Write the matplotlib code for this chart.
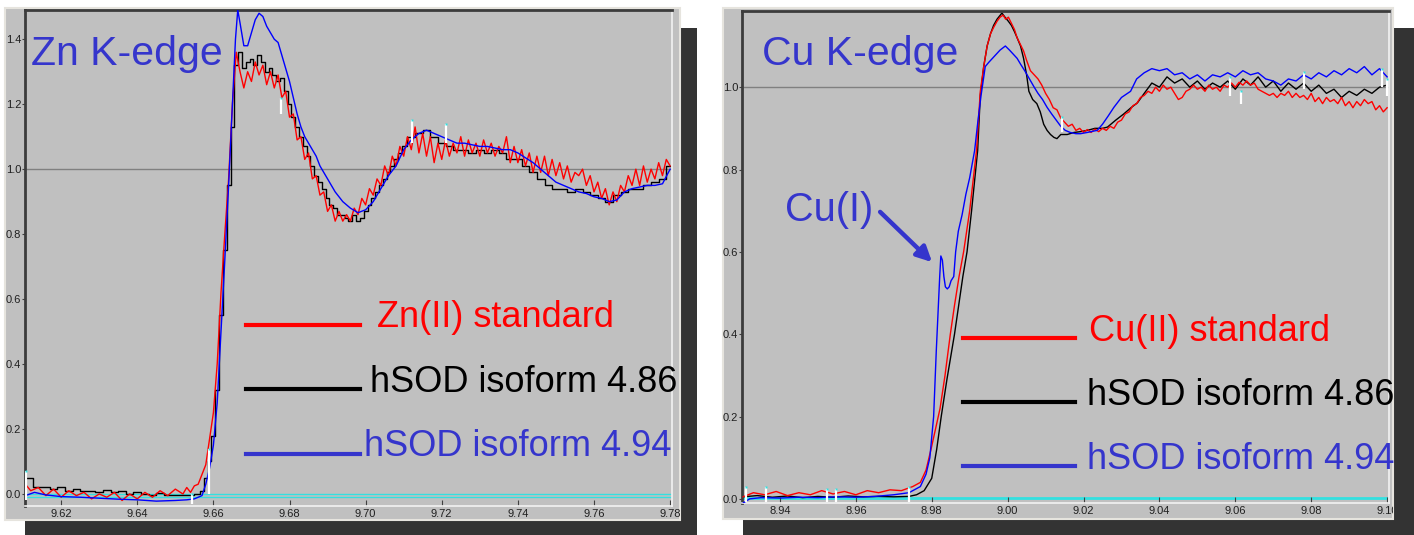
import numpy as np
import matplotlib
matplotlib.use("Agg")
import matplotlib.pyplot as plt
from matplotlib.patches import Rectangle
from matplotlib.lines import Line2D

W, H = 1414, 535

# ---------------- Zn K-edge data (energy in keV, normalised absorption) ----------------
zn_std_pre_e = [9.6106, 9.612, 9.614, 9.616, 9.618, 9.620, 9.622, 9.624, 9.626, 9.628,
                9.630, 9.632, 9.634, 9.636, 9.638, 9.640, 9.642, 9.644, 9.646, 9.648,
                9.650, 9.652, 9.653, 9.654, 9.655, 9.656, 9.657, 9.658, 9.659, 9.660,
                9.661, 9.662, 9.663, 9.664, 9.665]
zn_std_pre_mu = [0.03, 0.01, 0.02, -0.005, 0.015, -0.01, 0.01, -0.005, 0.005, -0.015,
                 0.0, -0.01, 0.005, -0.02, 0.0, -0.015, 0.005, -0.01, 0.01, -0.005,
                 0.015, 0.0, 0.02, 0.005, 0.025, 0.03, 0.06, 0.09, 0.17, 0.25,
                 0.40, 0.62, 0.80, 0.97, 1.20]
# noisy post-edge of the standard, one reading per eV from 9.666 keV
zn_std_post_mu = [1.36, 1.30, 1.25, 1.30, 1.27, 1.33, 1.29, 1.32, 1.26, 1.30,
                  1.25, 1.29, 1.22, 1.24, 1.16, 1.17, 1.09, 1.10, 1.03, 1.05,
                  0.97, 0.98, 0.92, 0.93, 0.87, 0.89, 0.84, 0.87, 0.84, 0.86,
                  0.84, 0.88, 0.86, 0.91, 0.89, 0.94, 0.92, 0.97, 0.95, 1.01,
                  0.98, 1.04, 1.01, 1.07, 1.04, 1.10, 1.06, 1.13, 1.05, 1.11,
                  1.04, 1.10, 1.02, 1.08, 1.03, 1.09, 1.04, 1.08, 1.05, 1.10,
                  1.04, 1.09, 1.05, 1.08, 1.04, 1.09, 1.05, 1.08, 1.04, 1.07,
                  1.05, 1.10, 1.02, 1.07, 1.02, 1.06, 1.01, 1.05, 0.99, 1.04,
                  0.99, 1.04, 0.98, 1.03, 0.98, 1.02, 0.97, 1.01, 0.96, 0.99,
                  0.98, 1.00, 0.95, 0.98, 0.93, 0.96, 0.91, 0.94, 0.89, 0.93,
                  0.90, 0.95, 0.93, 0.98, 0.95, 1.00, 0.95, 1.01, 0.96, 1.00,
                  0.97, 1.02, 0.98, 1.03, 1.01]

zn_486_e = [9.6106, 9.612, 9.613, 9.616, 9.618, 9.620, 9.622, 9.624, 9.626, 9.628,
            9.630, 9.632, 9.634, 9.636, 9.638, 9.640, 9.642, 9.644, 9.646, 9.648,
            9.650, 9.652, 9.654, 9.656, 9.657, 9.658, 9.659, 9.660, 9.661, 9.662,
            9.663, 9.664, 9.665, 9.666, 9.667, 9.668, 9.669, 9.670, 9.671, 9.672,
            9.673, 9.674, 9.675, 9.676, 9.677, 9.678, 9.679, 9.680, 9.681, 9.682,
            9.683, 9.684, 9.685, 9.686, 9.687, 9.688, 9.689, 9.690, 9.691, 9.692,
            9.693, 9.694, 9.695, 9.696, 9.697, 9.698, 9.699, 9.700, 9.701, 9.702,
            9.703, 9.704, 9.705, 9.706, 9.707, 9.708, 9.709, 9.710, 9.712, 9.714,
            9.716, 9.718, 9.720, 9.722, 9.724, 9.726, 9.728, 9.730, 9.732, 9.734,
            9.736, 9.738, 9.740, 9.742, 9.744, 9.746, 9.748, 9.750, 9.752, 9.754,
            9.756, 9.758, 9.760, 9.762, 9.764, 9.766, 9.768, 9.770, 9.772, 9.774,
            9.776, 9.778, 9.780]
zn_486_mu = [0.05, 0.05, 0.02, 0.02, 0.015, 0.02, 0.01, 0.015, 0.01, 0.01,
             0.005, 0.012, 0.005, 0.008, 0.0, 0.005, 0.0, -0.002, 0.002, -0.003,
             -0.002, -0.004, -0.003, 0.0, 0.01, 0.05, 0.10, 0.18, 0.32, 0.55,
             0.75, 0.95, 1.13, 1.32, 1.36, 1.31, 1.33, 1.34, 1.32, 1.35,
             1.33, 1.30, 1.31, 1.29, 1.27, 1.28, 1.24, 1.20, 1.16, 1.13,
             1.10, 1.07, 1.04, 1.01, 0.98, 0.96, 0.94, 0.91, 0.89, 0.88,
             0.86, 0.86, 0.85, 0.84, 0.86, 0.84, 0.85, 0.87, 0.89, 0.91,
             0.93, 0.95, 0.97, 0.99, 1.01, 1.03, 1.05, 1.07, 1.10, 1.11,
             1.12, 1.10, 1.08, 1.07, 1.06, 1.06, 1.05, 1.06, 1.05, 1.06,
             1.05, 1.03, 1.03, 1.01, 0.99, 0.97, 0.95, 0.94, 0.94, 0.93,
             0.94, 0.93, 0.92, 0.91, 0.90, 0.92, 0.93, 0.94, 0.94, 0.95,
             0.96, 0.97, 1.01]

zn_494_e = [9.6106, 9.613, 9.616, 9.620, 9.625, 9.630, 9.635, 9.640, 9.645, 9.650,
            9.653, 9.655, 9.657, 9.658, 9.659, 9.660, 9.661, 9.662, 9.663, 9.664,
            9.665, 9.6658, 9.6664, 9.667, 9.668, 9.669, 9.670, 9.671, 9.672, 9.673,
            9.674, 9.675, 9.676, 9.677, 9.678, 9.679, 9.680, 9.681, 9.682, 9.683,
            9.684, 9.685, 9.686, 9.687, 9.688, 9.689, 9.690, 9.692, 9.694, 9.696,
            9.698, 9.700, 9.702, 9.704, 9.706, 9.708, 9.710, 9.712, 9.714, 9.716,
            9.718, 9.720, 9.722, 9.724, 9.726, 9.728, 9.730, 9.732, 9.734, 9.736,
            9.738, 9.740, 9.742, 9.744, 9.746, 9.748, 9.750, 9.752, 9.754, 9.756,
            9.758, 9.760, 9.762, 9.764, 9.766, 9.768, 9.770, 9.772, 9.774, 9.776,
            9.778, 9.780]
zn_494_mu = [-0.005, 0.005, -0.003, -0.008, -0.01, -0.013, -0.016, -0.018, -0.022, -0.02,
             -0.018, -0.015, -0.005, 0.03, 0.08, 0.15, 0.28, 0.50, 0.72, 0.95,
             1.20, 1.40, 1.49, 1.45, 1.38, 1.38, 1.42, 1.46, 1.48, 1.47,
             1.44, 1.42, 1.40, 1.39, 1.35, 1.31, 1.27, 1.22, 1.17, 1.13,
             1.10, 1.08, 1.06, 1.04, 1.01, 0.99, 0.97, 0.93, 0.90, 0.88,
             0.866, 0.875, 0.90, 0.94, 0.98, 1.01, 1.06, 1.09, 1.11, 1.12,
             1.11, 1.10, 1.09, 1.08, 1.08, 1.075, 1.07, 1.07, 1.065, 1.06,
             1.06, 1.05, 1.035, 1.02, 1.00, 0.98, 0.96, 0.95, 0.94, 0.93,
             0.925, 0.915, 0.91, 0.90, 0.905, 0.93, 0.94, 0.945, 0.95, 0.95,
             0.955, 1.00]

zn_glitch_e = [9.6108, 9.6545, 9.6588, 9.6777, 9.7123, 9.7210]
zn_glitch_lo = [-0.02, -0.03, 0.0, 1.17, 1.08, 1.08]
zn_glitch_hi = [0.07, 0.0, 0.14, 1.22, 1.15, 1.14]

# ---------------- Cu K-edge data ----------------
cu_std_pre_e = [8.9303, 8.933, 8.936, 8.939, 8.942, 8.945, 8.948, 8.951, 8.954, 8.957,
                8.960, 8.963, 8.966, 8.969, 8.972, 8.975, 8.977, 8.9785, 8.9798, 8.981,
                8.9822, 8.9835, 8.9849, 8.9860, 8.9872, 8.9884, 8.9900, 8.9918, 8.9928, 8.9937,
                8.9946, 8.9955, 8.9963, 8.9972, 8.9980, 8.9988, 8.9995, 9.0002, 9.0010, 9.0018,
                9.0025, 9.0033, 9.0042, 9.0050]
cu_std_pre_mu = [0.005, 0.015, 0.01, 0.018, 0.008, 0.015, 0.01, 0.02, 0.012, 0.018,
                 0.01, 0.02, 0.015, 0.022, 0.02, 0.03, 0.04, 0.07, 0.12, 0.17,
                 0.22, 0.30, 0.40, 0.47, 0.54, 0.60, 0.70, 0.846, 0.99, 1.05,
                 1.10, 1.13, 1.145, 1.16, 1.17, 1.175, 1.165, 1.17, 1.155, 1.14,
                 1.12, 1.105, 1.088, 1.065]
# noisy post-edge of the standard, one reading per eV from 9.006 keV
cu_std_post_mu = [1.04, 1.03, 1.02, 1.005, 0.985, 0.97, 0.95, 0.945, 0.925, 0.915,
                  0.905, 0.91, 0.895, 0.90, 0.89, 0.897, 0.89, 0.898, 0.892, 0.90,
                  0.895, 0.905, 0.90, 0.915, 0.92, 0.935, 0.94, 0.955, 0.96, 0.975,
                  0.98, 0.99, 0.985, 1.0, 0.99, 1.005, 0.995, 1.0, 0.985, 0.97,
                  0.975, 0.99, 0.995, 1.005, 0.995, 1.0, 0.99, 1.005, 0.995, 1.0,
                  0.99, 1.005, 1.0, 1.01, 1.0, 1.012, 1.005, 1.015, 1.005, 1.01,
                  0.995, 0.99, 0.985, 0.98, 0.985, 0.975, 0.985, 0.98, 0.99, 0.975,
                  0.985, 0.975, 0.98, 0.97, 0.985, 0.965, 0.975, 0.96, 0.975, 0.965,
                  0.97, 0.96, 0.975, 0.955, 0.965, 0.95, 0.965, 0.955, 0.97, 0.96,
                  0.965, 0.945, 0.955, 0.94, 0.95]

cu_486_e = [8.9303, 8.934, 8.938, 8.942, 8.946, 8.950, 8.954, 8.958, 8.962, 8.966,
            8.970, 8.974, 8.976, 8.978, 8.980, 8.9813, 8.9825, 8.9840, 8.9860, 8.9871,
            8.9882, 8.9893, 8.9905, 8.9921, 8.9928, 8.9937, 8.9946, 8.9955, 8.9963, 8.9972,
            8.9985, 8.9993, 9.0002, 9.0010, 9.0018, 9.0025, 9.0034, 9.0042, 9.0050, 9.0056,
            9.0066, 9.0077, 9.0086, 9.0095, 9.0104, 9.0113, 9.0122, 9.0130, 9.0140, 9.0157,
            9.0175, 9.0192, 9.0210, 9.0230, 9.0250, 9.0263, 9.0285, 9.0306, 9.0325, 9.0342,
            9.036, 9.038, 9.040, 9.042, 9.044, 9.046, 9.048, 9.050, 9.052, 9.054,
            9.056, 9.058, 9.060, 9.062, 9.064, 9.066, 9.068, 9.070, 9.072, 9.074,
            9.076, 9.078, 9.080, 9.082, 9.084, 9.086, 9.088, 9.090, 9.092, 9.094,
            9.096, 9.098, 9.100]
cu_486_mu = [0.005, 0.008, 0.004, 0.007, 0.003, 0.006, 0.004, 0.007, 0.005, 0.006,
             0.005, 0.006, 0.01, 0.02, 0.05, 0.12, 0.20, 0.29, 0.40, 0.47,
             0.54, 0.60, 0.70, 0.846, 0.98, 1.05, 1.10, 1.13, 1.15, 1.165,
             1.18, 1.17, 1.16, 1.15, 1.135, 1.12, 1.10, 1.07, 1.03, 0.99,
             0.97, 0.96, 0.94, 0.91, 0.895, 0.885, 0.878, 0.875, 0.885, 0.885,
             0.89, 0.892, 0.895, 0.90, 0.90, 0.903, 0.92, 0.935, 0.95, 0.962,
             0.985, 1.01, 1.0, 1.025, 1.01, 1.02, 1.0, 1.015, 0.995, 1.01,
             1.0, 1.015, 0.995, 1.02, 1.005, 1.025, 1.0, 1.015, 0.99, 1.01,
             0.995, 1.01, 0.99, 1.005, 0.985, 0.995, 0.975, 0.99, 0.98, 0.995,
             0.985, 1.0, 1.005]

cu_494_e = [8.9303, 8.932, 8.935, 8.940, 8.945, 8.950, 8.955, 8.960, 8.965, 8.970,
            8.974, 8.977, 8.9785, 8.9795, 8.9805, 8.9812, 8.9816, 8.9821, 8.9824, 8.9828,
            8.9832, 8.9836, 8.9841, 8.9846, 8.9851, 8.9858, 8.9863, 8.9870, 8.9880, 8.9890,
            8.9900, 8.9913, 8.9922, 8.9930, 8.9941, 8.9950, 8.9960, 8.9970, 8.9980, 8.9994,
            9.0005, 9.0015, 9.0025, 9.0034, 9.0045, 9.0060, 9.0070, 9.0080, 9.0092, 9.0104,
            9.0116, 9.0128, 9.0140, 9.0152, 9.0165, 9.0180, 9.0192, 9.0210, 9.0225, 9.0236,
            9.0250, 9.0265, 9.0280, 9.0300, 9.0324,
            9.034, 9.036, 9.038, 9.040, 9.042, 9.044, 9.046, 9.048, 9.050, 9.052,
            9.054, 9.056, 9.058, 9.060, 9.062, 9.064, 9.066, 9.068, 9.070, 9.072,
            9.074, 9.076, 9.078, 9.080, 9.082, 9.084, 9.086, 9.088, 9.090, 9.092,
            9.094, 9.096, 9.098, 9.100]
cu_494_mu = [-0.01, 0.0, 0.003, 0.002, 0.004, 0.003, 0.005, 0.004, 0.006, 0.01,
             0.015, 0.03, 0.06, 0.10, 0.20, 0.36, 0.44, 0.54, 0.59, 0.58,
             0.54, 0.515, 0.51, 0.515, 0.53, 0.54, 0.60, 0.65, 0.69, 0.74,
             0.78, 0.846, 0.92, 0.98, 1.05, 1.06, 1.07, 1.08, 1.09, 1.10,
             1.09, 1.08, 1.07, 1.056, 1.04, 1.016, 1.0, 0.985, 0.97, 0.951,
             0.935, 0.92, 0.905, 0.895, 0.89, 0.887, 0.887, 0.89, 0.893, 0.895,
             0.91, 0.93, 0.951, 0.975, 0.99,
             1.02, 1.035, 1.045, 1.04, 1.045, 1.03, 1.035, 1.02, 1.03, 1.015,
             1.03, 1.025, 1.035, 1.025, 1.04, 1.03, 1.035, 1.02, 1.015, 1.005,
             1.02, 1.015, 1.03, 1.02, 1.035, 1.025, 1.04, 1.03, 1.045, 1.035,
             1.05, 1.03, 1.045, 1.025]

cu_glitch_e = [8.9310, 8.9364, 8.9523, 8.9548, 8.9741, 9.0144, 9.0586, 9.0615, 9.0780, 9.0987, 9.0999]
cu_glitch_lo = [-0.007, -0.007, -0.007, -0.007, -0.007, 0.89, 0.979, 0.959, 0.996, 1.0, 0.979]
cu_glitch_hi = [0.03, 0.03, 0.025, 0.025, 0.03, 0.927, 1.024, 0.99, 1.036, 1.044, 1.02]

zn_ticks_x = [9.62, 9.64, 9.66, 9.68, 9.70, 9.72, 9.74, 9.76, 9.78]
zn_ticks_y = [0.0, 0.2, 0.4, 0.6, 0.8, 1.0, 1.2, 1.4]
cu_ticks_x = [8.94, 8.96, 8.98, 9.00, 9.02, 9.04, 9.06, 9.08, 9.10]
cu_ticks_y = [0.0, 0.2, 0.4, 0.6, 0.8, 1.0]

zn_labels = ["Zn(II) standard", "hSOD isoform 4.86", "hSOD isoform 4.94"]
cu_labels = ["Cu(II) standard", "hSOD isoform 4.86", "hSOD isoform 4.94"]

RED = "#ff0000"
BLUE = "#0000ff"
TXT_BLUE = "#3535cc"
CYAN = "#33e0e0"
GREY = "#c0c0c0"
MAIN_FONT = ["Liberation Sans", "DejaVu Sans"]
TICK_FONT = ["Liberation Sans Narrow", "Liberation Sans", "DejaVu Sans"]


def fx(px):
    return px / W


def fy(py):
    return 1 - py / H


def panel(fig, frame, axbox, shadow):
    sx0, sy0, sx1, sy1 = shadow
    fig.add_artist(Rectangle((fx(sx0), fy(sy1)), (sx1 - sx0) / W, (sy1 - sy0) / H,
                             transform=fig.transFigure, facecolor="#333333",
                             edgecolor="none", zorder=-3))
    x0, y0, x1, y1 = frame
    fr = Rectangle((fx(x0), fy(y1)), (x1 - x0) / W, (y1 - y0) / H,
                   transform=fig.transFigure, facecolor=GREY,
                   edgecolor="#e6e4de", lw=1.5, zorder=-2)
    fig.add_artist(fr)
    a0, b0, a1, b1 = axbox
    ax = fig.add_axes([fx(a0), fy(b1), (a1 - a0) / W, (b1 - b0) / H])
    ax.set_facecolor(GREY)
    for s in ("top", "left"):
        ax.spines[s].set_color("#3c3c3c")
        ax.spines[s].set_linewidth(2)
    for s in ("bottom", "right"):
        ax.spines[s].set_color("#f2f2f2")
        ax.spines[s].set_linewidth(1.2)
    return ax, fr


def style_ticks(ax, fr, xt, yt):
    ax.set_xticks(xt)
    ax.set_yticks(yt)
    ax.set_xticklabels([f"{v:.2f}" for v in xt])
    ax.set_yticklabels([f"{v:.1f}" for v in yt])
    ax.tick_params(axis="x", direction="in", length=4, width=0.8, color="#404040",
                   pad=2.5, labelsize=8, labelcolor="#202020")
    ax.tick_params(axis="y", direction="out", length=2.5, width=0.8, color="#404040",
                   pad=0.3, labelsize=8, labelcolor="#202020")
    for lab in ax.get_xticklabels() + ax.get_yticklabels():
        lab.set_family(TICK_FONT)
        lab.set_clip_path(fr)


def glitches(ax, e, lo, hi):
    ax.vlines(e, lo, hi, color="white", lw=1.6, zorder=5)
    ax.plot(e, hi, "s", ms=1.6, color=CYAN, mec="none", zorder=6)


def legend(fig, x0, x1, ys, labels, tx, colors, line_colors):
    for y, lab, t, c, lc in zip(ys, labels, tx, colors, line_colors):
        fig.add_artist(Line2D([fx(x0), fx(x1)], [fy(y[0]), fy(y[0])],
                              transform=fig.transFigure, color=lc, lw=3))
        fig.text(fx(t), fy(y[1]), lab, color=c, fontsize=26, family=MAIN_FONT,
                 ha="left", va="baseline")


fig = plt.figure(figsize=(W / 100, H / 100), dpi=100)
fig.patch.set_facecolor("white")

# ---- Zn panel ----
ax1, fr1 = panel(fig, (5, 8, 680, 520), (25, 10, 672, 506), (25, 28, 697, 535))
ax1.axhline(1.0, color="#808080", lw=1, zorder=1)
ax1.axhline(0.0, color=CYAN, lw=1, zorder=1)
ax1.axhline(-0.008, color=CYAN, lw=1, zorder=1)
zn_std_e = zn_std_pre_e + list(np.linspace(9.666, 9.780, len(zn_std_post_mu)))
zn_std_mu = zn_std_pre_mu + zn_std_post_mu
ax1.plot(zn_486_e, zn_486_mu, color="black", lw=1, drawstyle="steps-mid", zorder=2)
ax1.plot(zn_std_e, zn_std_mu, color=RED, lw=1, zorder=3)
ax1.plot(zn_494_e, zn_494_mu, color=BLUE, lw=1, zorder=4)
glitches(ax1, zn_glitch_e, zn_glitch_lo, zn_glitch_hi)
ax1.set_xlim(9.6105, 9.7805)
ax1.set_ylim(-0.037, 1.49)
style_ticks(ax1, fr1, zn_ticks_x, zn_ticks_y)

# ---- Cu panel ----
ax2, fr2 = panel(fig, (723, 8, 1393, 519), (742, 11, 1389, 503), (743, 28, 1414, 535))
ax2.axhline(1.0, color="#808080", lw=1, zorder=1)
ax2.axhline(0.003, color=CYAN, lw=2, zorder=1)
cu_std_e = cu_std_pre_e + list(np.linspace(9.006, 9.100, len(cu_std_post_mu)))
cu_std_mu = cu_std_pre_mu + cu_std_post_mu
ax2.plot(cu_486_e, cu_486_mu, color="black", lw=1, zorder=2)
ax2.plot(cu_std_e, cu_std_mu, color=RED, lw=1, zorder=3)
ax2.plot(cu_494_e, cu_494_mu, color=BLUE, lw=1, zorder=4)
glitches(ax2, cu_glitch_e, cu_glitch_lo, cu_glitch_hi)
ax2.set_xlim(8.930, 9.1005)
ax2.set_ylim(-0.01, 1.185)
style_ticks(ax2, fr2, cu_ticks_x, cu_ticks_y)

ax2.annotate("", xy=(8.9801, 0.575), xytext=(8.9664, 0.697),
             arrowprops=dict(arrowstyle="-|>,head_length=0.9,head_width=0.45",
                             color=TXT_BLUE, lw=3.2, shrinkA=0, shrinkB=0), zorder=7)
ax2.text(8.9413, 0.676, "Cu(I)", color=TXT_BLUE, fontsize=28.5, family=MAIN_FONT,
         ha="left", va="baseline")

# ---- titles and hand-drawn legends ----
fig.text(fx(31), fy(65), "Zn K-edge", color=TXT_BLUE, fontsize=29.5, family=MAIN_FONT,
         ha="left", va="baseline")
fig.text(fx(762), fy(65), "Cu K-edge", color=TXT_BLUE, fontsize=29.5, family=MAIN_FONT,
         ha="left", va="baseline")

legend(fig, 246, 360, [(325, 327), (389, 391.5), (453.5, 456.5)], zn_labels,
       [377, 370, 364], [RED, "black", TXT_BLUE], [RED, "black", TXT_BLUE])
legend(fig, 963, 1075, [(338, 341), (402, 405), (466, 469)], cu_labels,
       [1089, 1087, 1087], [RED, "black", TXT_BLUE], [RED, "black", TXT_BLUE])

fig.savefig("out.png", dpi=100, facecolor="white")
